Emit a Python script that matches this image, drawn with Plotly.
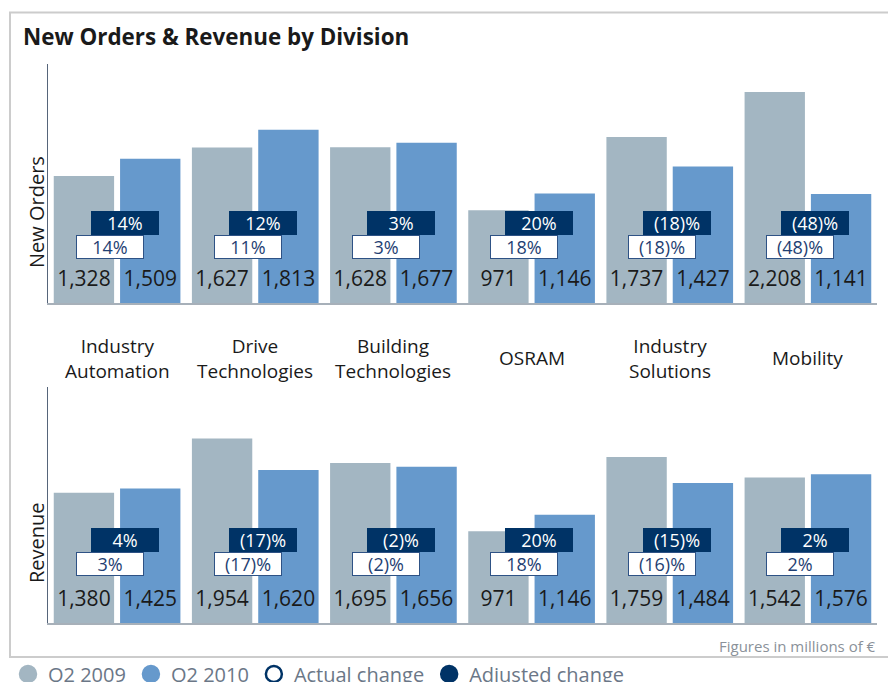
import plotly.graph_objects as go

# divisions (x categories) and their two-line labels shown between the panels
divisions = ["Industry Automation", "Drive Technologies", "Building Technologies",
             "OSRAM", "Industry Solutions", "Mobility"]
division_labels = ["Industry<br>Automation", "Drive<br>Technologies", "Building<br>Technologies",
                   "OSRAM", "Industry<br>Solutions", "Mobility"]

# new orders, millions of EUR
orders_q2_2009 = [1328, 1627, 1628, 971, 1737, 2208]
orders_q2_2010 = [1509, 1813, 1677, 1146, 1427, 1141]
orders_actual = ["14%", "11%", "3%", "18%", "(18)%", "(48)%"]
orders_adjusted = ["14%", "12%", "3%", "20%", "(18)%", "(48)%"]

# revenue, millions of EUR
revenue_q2_2009 = [1380, 1954, 1695, 971, 1759, 1542]
revenue_q2_2010 = [1425, 1620, 1656, 1146, 1484, 1576]
revenue_actual = ["3%", "(17)%", "(2)%", "18%", "(16)%", "2%"]
revenue_adjusted = ["4%", "(17)%", "(2)%", "20%", "(15)%", "2%"]

GREY = "#a3b6c2"
BLUE = "#6699cc"
NAVY = "#003366"
FONT = "Open Sans"
W, H = 896, 682
OFF = 8          # the page body adds an 8px margin around the figure
LABEL_LEVEL = 235  # height (data units) where the value labels sit inside the bars


def px_x(v):
    # screen pixel -> paper fraction
    return (v - OFF) / W


def px_y(v):
    return (H - (v - OFF)) / H


fig = go.Figure()

# (xaxis, yaxis, 2009 values, 2010 values)
panels = [
    ("x", "y", orders_q2_2009, orders_q2_2010),
    ("x2", "y2", revenue_q2_2009, revenue_q2_2010),
]
for xa, ya, v09, v10 in panels:
    for grp, vals, color in [("q09", v09, GREY), ("q10", v10, BLUE)]:
        fig.add_trace(go.Bar(
            x=divisions, y=vals, xaxis=xa, yaxis=ya, offsetgroup=grp,
            marker=dict(color=color, line=dict(width=0)),
            showlegend=False, hovertemplate="%{x}: %{y:,}<extra></extra>",
        ))
        # value labels near the foot of each bar
        fig.add_trace(go.Scatter(
            x=divisions, y=[LABEL_LEVEL] * len(vals), xaxis=xa, yaxis=ya, offsetgroup=grp,
            mode="text", text=[f"{v:,}" for v in vals], textposition="middle center",
            textfont=dict(family=FONT, size=21, color="#1a1a1a"),
            showlegend=False, hoverinfo="skip",
        ))

# legend-only traces on a hidden axis pair
for name, sym, col in [("Q2 2009", "circle", GREY), ("Q2 2010", "circle", BLUE),
                       ("Actual change", "circle-open", NAVY),
                       ("Adjusted change", "circle", NAVY)]:
    fig.add_trace(go.Scatter(
        x=[None], y=[None], xaxis="x3", yaxis="y3", mode="markers", name=name,
        marker=dict(symbol=sym, size=16, color=col, line=dict(color=col, width=2.5)),
    ))

annotations = []

# change boxes: adjusted (dark, shifted right) over actual (white, shifted left)
boxes = [
    ("x", "y domain", orders_actual, orders_adjusted, 0.335, 0.236),
    ("x2", "y2 domain", revenue_actual, revenue_adjusted, 0.352, 0.252),
]
for xref, yref, actual, adjusted, y_adj, y_act in boxes:
    for div, txt in zip(divisions, adjusted):
        annotations.append(dict(
            x=div, xref=xref, y=y_adj, yref=yref, xshift=7.5, xanchor="center", yanchor="middle",
            text=txt, showarrow=False, width=66, height=22, borderpad=0, borderwidth=1,
            bgcolor=NAVY, bordercolor=NAVY, font=dict(family=FONT, size=18, color="white"),
        ))
    for div, txt in zip(divisions, actual):
        annotations.append(dict(
            x=div, xref=xref, y=y_act, yref=yref, xshift=-7.5, xanchor="center", yanchor="middle",
            text=txt, showarrow=False, width=66, height=22, borderpad=0, borderwidth=1,
            bgcolor="white", bordercolor="#2e5285", font=dict(family=FONT, size=18, color="#1f3f73"),
        ))

# division names between the two panels
for div, lab in zip(divisions, division_labels):
    annotations.append(dict(
        x=div, xref="x", y=px_y(358), yref="paper", xanchor="center", yanchor="middle",
        text=lab, showarrow=False, font=dict(family=FONT, size=19, color="#1a1a1a"),
    ))

# titles and notes
annotations += [
    dict(x=px_x(21), y=px_y(37), xref="paper", yref="paper", xanchor="left", yanchor="middle",
         text="<b>New Orders & Revenue by Division</b>", showarrow=False,
         font=dict(family=FONT, size=22.4, color="#1a1a1a")),
    dict(x=px_x(37), y=px_y(212), xref="paper", yref="paper", xanchor="center", yanchor="middle",
         text="New Orders", textangle=-90, showarrow=False,
         font=dict(family=FONT, size=20, color="#1a1a1a")),
    dict(x=px_x(36), y=px_y(543), xref="paper", yref="paper", xanchor="center", yanchor="middle",
         text="Revenue", textangle=-90, showarrow=False,
         font=dict(family=FONT, size=20, color="#1a1a1a")),
    dict(x=px_x(878), y=px_y(646), xref="paper", yref="paper", xanchor="right", yanchor="middle",
         text="Figures in millions of €", showarrow=False,
         font=dict(family=FONT, size=15, color="#8a9199")),
]

xaxis_style = dict(domain=[px_x(48), px_x(877)], showline=True, linecolor="#a7b0b9", linewidth=2,
                   showticklabels=False, ticks="", showgrid=False, zeroline=False, fixedrange=True)
yaxis_style = dict(range=[0, 2500], showline=True, linecolor="#56657a", linewidth=1,
                   showticklabels=False, ticks="", showgrid=False, zeroline=False, fixedrange=True)

fig.update_layout(
    width=W, height=H,
    margin=dict(l=0, r=0, t=0, b=0, autoexpand=False),
    paper_bgcolor="white", plot_bgcolor="white",
    barmode="group", bargap=0.04, bargroupgap=0.09,
    scattermode="group", scattergap=0.04,
    xaxis=dict(xaxis_style, anchor="y"),
    yaxis=dict(yaxis_style, domain=[px_y(303), px_y(64)], anchor="x"),
    xaxis2=dict(xaxis_style, anchor="y2"),
    yaxis2=dict(yaxis_style, domain=[px_y(623), px_y(387)], anchor="x2"),
    xaxis3=dict(visible=False, domain=[0, 0.01], anchor="y3"),
    yaxis3=dict(visible=False, domain=[0, 0.01], anchor="x3"),
    annotations=annotations,
    shapes=[dict(type="rect", xref="paper", yref="paper", x0=px_x(10), x1=1.05,
                 y0=px_y(657), y1=px_y(12.5), line=dict(color="#cccccc", width=2), layer="below")],
    legend=dict(orientation="h", x=0, y=px_y(674), xanchor="left", yanchor="middle",
                font=dict(family=FONT, size=20, color="#6b7787"), bgcolor="rgba(0,0,0,0)",
                itemsizing="trace"),
    font=dict(family=FONT),
)

fig.write_html("out.html")
